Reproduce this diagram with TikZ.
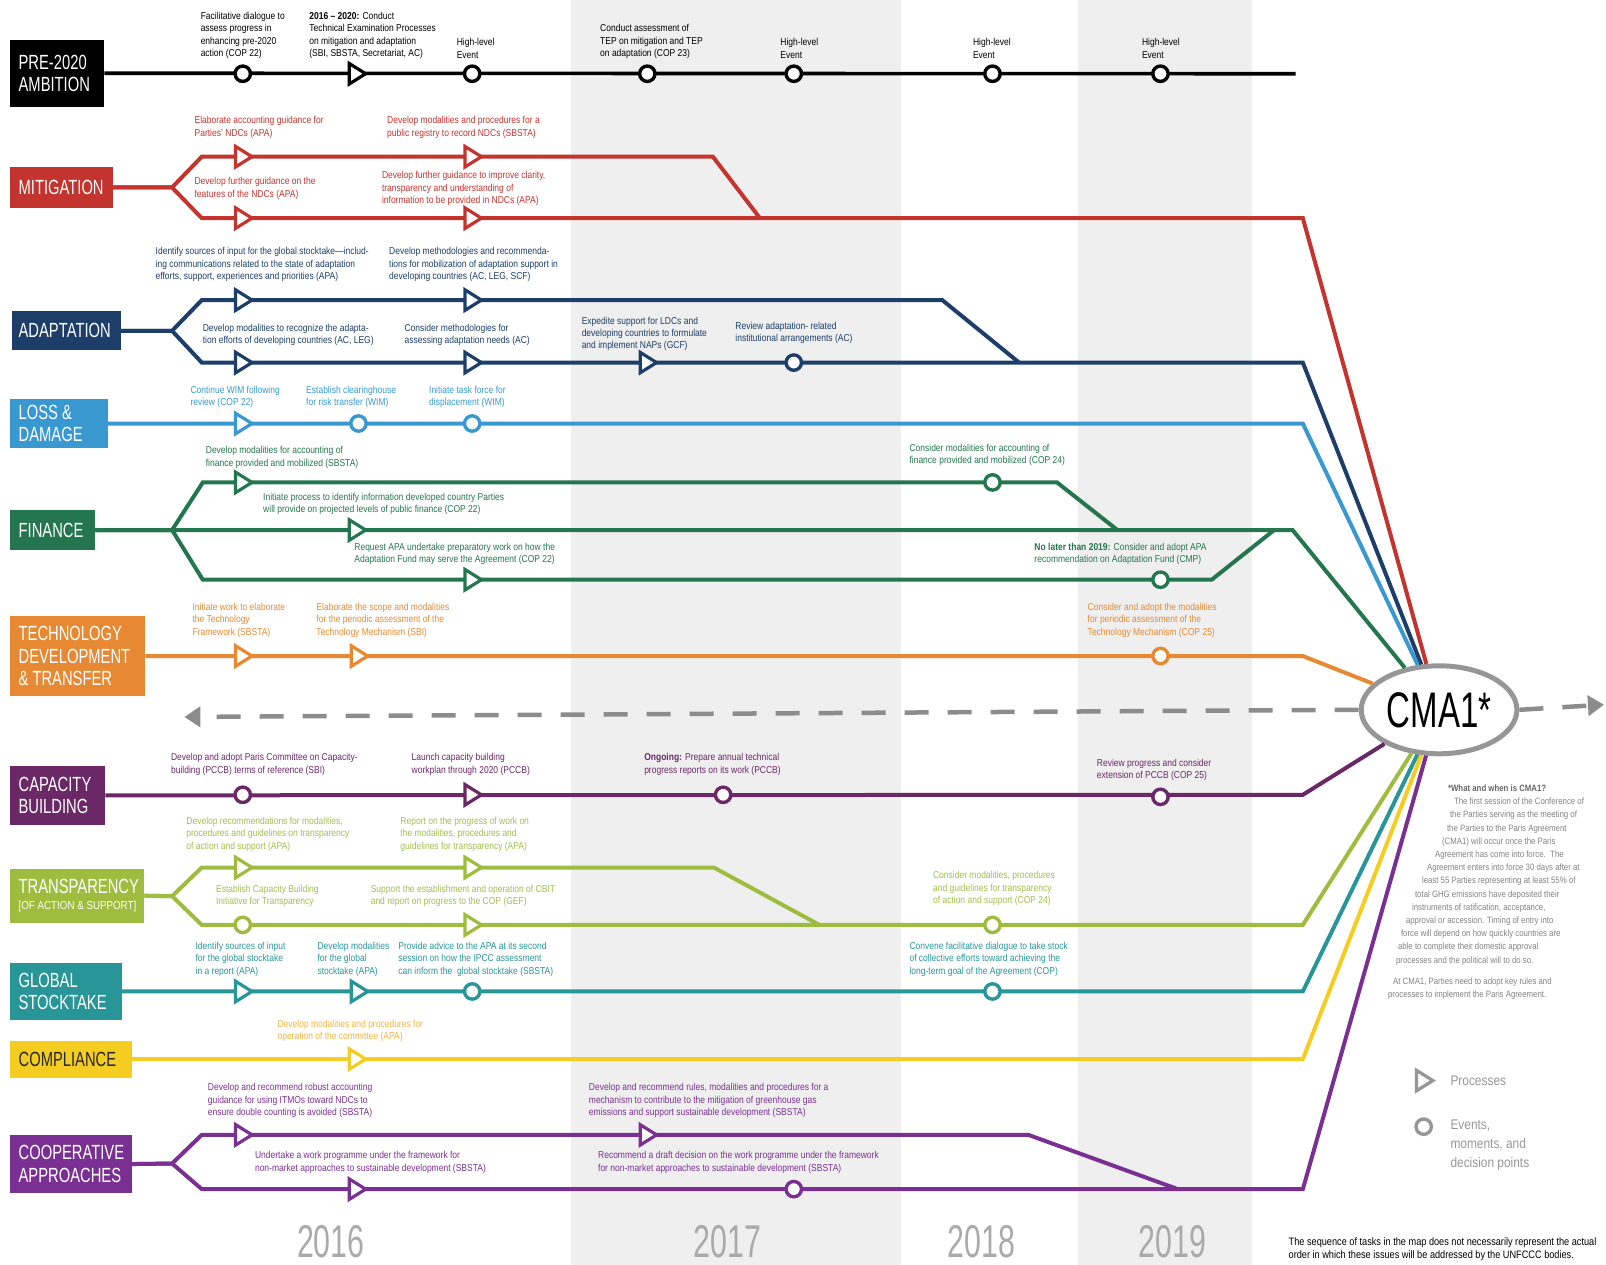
\documentclass[tikz,border=0pt]{standalone}
\usepackage{fontspec}
\setmainfont{Liberation Sans}[FakeStretch=0.85]
\newfontfamily\catfont{Liberation Sans}[FakeStretch=0.72]
\newfontfamily\condfont{Liberation Sans}[FakeStretch=0.66]
\usetikzlibrary{fit,shapes.geometric,arrows.meta}
\definecolor{bandg}{RGB}{239,239,239}
\definecolor{yearg}{RGB}{170,170,170}
\definecolor{mitc}{RGB}{196,52,46}
\definecolor{adac}{RGB}{28,62,104}
\definecolor{lossc}{RGB}{58,152,208}
\definecolor{finc}{RGB}{36,118,78}
\definecolor{tecc}{RGB}{230,137,50}
\definecolor{capc}{RGB}{106,40,102}
\definecolor{trac}{RGB}{158,188,62}
\definecolor{tratc}{RGB}{160,190,78}
\definecolor{gstc}{RGB}{40,150,152}
\definecolor{comc}{RGB}{245,205,32}
\definecolor{comtc}{RGB}{238,180,70}
\definecolor{cooc}{RGB}{122,48,146}
\definecolor{dashg}{RGB}{140,140,140}
\definecolor{cmag}{RGB}{150,150,150}
\definecolor{noteg}{RGB}{130,130,130}
\definecolor{legg}{RGB}{150,150,150}
\begin{document}
\begin{tikzpicture}[x=1.0242pt,y=-1.0242pt,
  lbl/.style={inner sep=0pt,outer sep=0pt,align=left,font=\fontsize{10}{12.3}\selectfont},
  catbox/.style={inner sep=0pt,outer sep=0pt},
  cattxt/.style={inner sep=0pt,anchor=west,align=left,text=white,font=\catfont\fontsize{20.5}{22.5}\selectfont},
  track/.style={line width=4pt,line join=miter},
  evt/.pic={\draw[line width=3.4pt,fill=white] (0,0) circle[radius=7.5];},
  proc/.pic={\draw[line width=3.2pt,fill=white,line join=miter] (-7,-10) -- (9,0) -- (-7,10) -- cycle;},
  yr/.style={inner sep=0pt,text=yearg,font=\condfont\fontsize{46}{46}\selectfont},
  dasharr/.style={line width=4.5pt,dashg,dash pattern=on 24pt off 19pt,-{Triangle[length=16pt,width=20pt]}}
]
\useasboundingbox (0,0) rectangle (1568,1235);
% year bands
\fill[bandg] (557,0) rectangle (880,1235);
\fill[bandg] (1052,0) rectangle (1222,1235);
\node[yr] (y16) at (323,1212) {2016};
\node[yr] (y17) at (710,1212) {2017};
\node[yr] (y18) at (958,1212) {2018};
\node[yr] (y19) at (1145,1212) {2019};

% CMA1
\node[ellipse,draw=cmag,line width=5pt,fill=white,minimum width=155.7pt,minimum height=88pt,inner sep=0pt,
  font=\condfont\fontsize{50}{50}\selectfont] (cma) at (1405,693) {CMA1*};
\coordinate (arrL) at (180,700);
\coordinate (arrR) at (1566,688);
\draw[dasharr] (cma.west) -- (arrL);
\draw[dasharr] (cma.east) -- (arrR);

% ---------------- PRE-2020
\node[catbox,fill=black,fit={(10,39) (102,104)}] (pre) {};
\node[cattxt] (preT) at (18,71.5) {PRE-2020\\AMBITION};
\coordinate (preEnd) at (1265,72);
\draw[track,line width=3.6pt] (pre.east) -- (preEnd);
\foreach \x in {237,461,632,775,969,1133} {\pic[color=black] at (\x,72) {evt};}
\pic[color=black] at (348,72) {proc};
\node[lbl,anchor=south west] (pA) at (196,57) {Facilitative dialogue to\\assess progress in\\enhancing pre-2020\\action (COP 22)};
\node[lbl,anchor=south west] (pB) at (302,57) {\textbf{2016 – 2020:} Conduct\\Technical Examination Processes\\on mitigation and adaptation\\(SBI, SBSTA, Secretariat, AC)};
\node[lbl,anchor=south west] (pC) at (446,57) {High-level\\Event};
\node[lbl,anchor=south west] (pD) at (586,57) {Conduct assessment of\\TEP on mitigation and TEP\\on adaptation (COP 23)};
\node[lbl,anchor=south west] (pE) at (762,57) {High-level\\Event};
\node[lbl,anchor=south west] (pF) at (950,57) {High-level\\Event};
\node[lbl,anchor=south west] (pG) at (1115,57) {High-level\\Event};

% ---------------- MITIGATION
\node[catbox,fill=mitc,fit={(10,163) (110,203)}] (mit) {};
\node[cattxt] (mitT) at (18,183) {MITIGATION};
\draw[track,mitc] (mit.east) -- (168,183) -- (197,153) -- (696,153) -- (742,213);
\draw[track,mitc] (mit.east) -- (168,183) -- (197,213) -- (1272,213) -- (cma);
\foreach \x in {237,461} {\pic[color=mitc] at (\x,153) {proc}; \pic[color=mitc] at (\x,213) {proc};}
\begin{scope}[every node/.append style={text=mitc}]
\node[lbl,anchor=south west] (mA) at (190,135) {Elaborate accounting guidance for\\Parties' NDCs (APA)};
\node[lbl,anchor=south west] (mB) at (378,135) {Develop modalities and procedures for a\\public registry to record NDCs (SBSTA)};
\node[lbl,anchor=west] (mC) at (190,184) {Develop further guidance on the\\features of the NDCs (APA)};
\node[lbl,anchor=west] (mD) at (373,184) {Develop further guidance to improve clarity,\\transparency and understanding of\\information to be provided in NDCs (APA)};
\end{scope}

% ---------------- ADAPTATION
\node[catbox,fill=adac,fit={(12,304) (118,342)}] (ada) {};
\node[cattxt] (adaT) at (18,323) {ADAPTATION};
\draw[track,adac] (ada.east) -- (168,323) -- (197,293) -- (920,293) -- (995,354);
\draw[track,adac] (ada.east) -- (168,323) -- (197,354) -- (1272,354) -- (cma);
\foreach \x in {237,461} {\pic[color=adac] at (\x,293) {proc};}
\foreach \x in {237,461,632} {\pic[color=adac] at (\x,354) {proc};}
\pic[color=adac] at (775,354) {evt};
\begin{scope}[every node/.append style={text=adac}]
\node[lbl,anchor=south west] (aA) at (152,275) {Identify sources of input for the global stocktake—includ-\\ing communications related to the state of adaptation\\efforts, support, experiences and priorities (APA)};
\node[lbl,anchor=south west] (aB) at (380,275) {Develop methodologies and recommenda-\\tions for mobilization of adaptation support in\\developing countries (AC, LEG, SCF)};
\node[lbl,anchor=west] (aC) at (198,327) {Develop modalities to recognize the adapta-\\tion efforts of developing countries (AC, LEG)};
\node[lbl,anchor=west] (aD) at (395,327) {Consider methodologies for\\assessing adaptation needs (AC)};
\node[lbl,anchor=west] (aE) at (568,326) {Expedite support for LDCs and\\developing countries to formulate\\and implement NAPs (GCF)};
\node[lbl,anchor=west] (aF) at (718,325) {Review adaptation- related\\institutional arrangements (AC)};
\end{scope}

% ---------------- LOSS & DAMAGE
\node[catbox,fill=lossc,fit={(10,390) (105,437)}] (loss) {};
\node[cattxt] (lossT) at (18,413.5) {LOSS \&\\DAMAGE};
\draw[track,lossc] (loss.east) -- (1272,413.5) -- (cma);
\pic[color=lossc] at (237,413.5) {proc};
\foreach \x in {350,461} {\pic[color=lossc] at (\x,413.5) {evt};}
\begin{scope}[every node/.append style={text=lossc}]
\node[lbl,anchor=south west] (lA) at (186,398) {Continue WIM following\\review (COP 22)};
\node[lbl,anchor=south west] (lB) at (299,398) {Establish clearinghouse\\for risk transfer (WIM)};
\node[lbl,anchor=south west] (lC) at (419,398) {Initiate task force for\\displacement (WIM)};
\end{scope}

% ---------------- FINANCE
\node[catbox,fill=finc,fit={(10,498) (93,537)}] (fin) {};
\node[cattxt] (finT) at (18,517.5) {FINANCE};
\draw[track,finc] (fin.east) -- (168,517.5) -- (198,471) -- (1032,471) -- (1091,517.5);
\draw[track,finc] (fin.east) -- (168,517.5) -- (198,566) -- (1183,566) -- (1244,517.5);
\draw[track,finc] (fin.east) -- (1262,517.5) -- (cma);
\pic[color=finc] at (237,471) {proc};
\pic[color=finc] at (348,517.5) {proc};
\pic[color=finc] at (461,566) {proc};
\pic[color=finc] at (969,471) {evt};
\pic[color=finc] at (1133,566) {evt};
\begin{scope}[every node/.append style={text=finc}]
\node[lbl,anchor=south west] (fA) at (201,457) {Develop modalities for accounting of\\finance provided and mobilized (SBSTA)};
\node[lbl,anchor=west] (fB) at (257,492) {Initiate process to identify information developed country Parties\\will provide on projected levels of public finance (COP 22)};
\node[lbl,anchor=west] (fC) at (346,541) {Request APA undertake preparatory work on how the\\Adaptation Fund may serve the Agreement (COP 22)};
\node[lbl,anchor=south west] (fD) at (888,455) {Consider modalities for accounting of\\finance provided and mobilized (COP 24)};
\node[lbl,anchor=west] (fE) at (1010,541) {\textbf{No later than 2019:} Consider and adopt APA\\recommendation on Adaptation Fund (CMP)};
\end{scope}

% ---------------- TECHNOLOGY
\node[catbox,fill=tecc,fit={(10,601) (142,680)}] (tec) {};
\node[cattxt] (tecT) at (18,640.5) {TECHNOLOGY\\DEVELOPMENT\\\& TRANSFER};
\draw[track,tecc] (tec.east) -- (1272,640.5) -- (cma);
\foreach \x in {237,350} {\pic[color=tecc] at (\x,640.5) {proc};}
\pic[color=tecc] at (1133,640.5) {evt};
\begin{scope}[every node/.append style={text=tecc}]
\node[lbl,anchor=south west] (tA) at (188,622) {Initiate work to elaborate\\the Technology\\Framework (SBSTA)};
\node[lbl,anchor=south west] (tB) at (309,622) {Elaborate the scope and modalities\\for the periodic assessment of the\\Technology Mechanism (SBI)};
\node[lbl,anchor=south west] (tC) at (1062,622) {Consider and adopt the modalities\\for periodic assessment of the\\Technology Mechanism (COP 25)};
\end{scope}

% ---------------- CAPACITY BUILDING
\node[catbox,fill=capc,fit={(10,748) (103,805)}] (cap) {};
\node[cattxt] (capT) at (18,776.5) {CAPACITY\\BUILDING};
\draw[track,capc] (cap.east) -- (1272,776) -- (cma);
\pic[color=capc] at (237,776) {evt};
\pic[color=capc] at (461,776) {proc};
\pic[color=capc] at (706,776) {evt};
\pic[color=capc] at (1133,778) {evt};
\begin{scope}[every node/.append style={text=capc}]
\node[lbl,anchor=south west] (cA) at (167,757) {Develop and adopt Paris Committee on Capacity-\\building (PCCB) terms of reference (SBI)};
\node[lbl,anchor=south west] (cB) at (402,757) {Launch capacity building\\workplan through 2020 (PCCB)};
\node[lbl,anchor=south west] (cC) at (629,757) {\textbf{Ongoing:} Prepare annual technical\\progress reports on its work (PCCB)};
\node[lbl,anchor=south west] (cD) at (1071,762) {Review progress and consider\\extension of PCCB (COP 25)};
\end{scope}

% ---------------- TRANSPARENCY
\node[catbox,fill=trac,fit={(10,848) (141,901)}] (tra) {};
\node[cattxt] (traT) at (18,874.5) {TRANSPARENCY\\[-6pt]{\rmfamily\fontsize{11.5}{12}\selectfont [OF ACTION \& SUPPORT]}};
\draw[track,trac] (tra.east) -- (168,875) -- (197,847) -- (697,847) -- (800,903);
\draw[track,trac] (tra.east) -- (168,875) -- (197,903) -- (1272,903) -- (cma);
\foreach \x in {237,461} {\pic[color=trac] at (\x,847) {proc};}
\pic[color=trac] at (237,903) {evt};
\pic[color=trac] at (461,903) {proc};
\pic[color=trac] at (969,903) {evt};
\begin{scope}[every node/.append style={text=tratc}]
\node[lbl,anchor=south west] (rA) at (182,831) {Develop recommendations for modalities,\\procedures and guidelines on transparency\\of action and support (APA)};
\node[lbl,anchor=south west] (rB) at (391,831) {Report on the progress of work on\\the modalities, procedures and\\guidelines for transparency (APA)};
\node[lbl,anchor=west] (rC) at (211,875) {Establish Capacity Building\\Initiative for Transparency};
\node[lbl,anchor=west] (rD) at (362,875) {Support the establishment and operation of CBIT\\and report on progress to the COP (GEF)};
\node[lbl,anchor=south west] (rE) at (911,884) {Consider modalities, procedures\\and guidelines for transparency\\of action and support (COP 24)};
\end{scope}

% ---------------- GLOBAL STOCKTAKE
\node[catbox,fill=gstc,fit={(10,940) (119,996)}] (gst) {};
\node[cattxt] (gstT) at (18,968) {GLOBAL\\STOCKTAKE};
\draw[track,gstc] (gst.east) -- (1272,968) -- (cma);
\foreach \x in {237,350} {\pic[color=gstc] at (\x,968) {proc};}
\foreach \x in {461,969} {\pic[color=gstc] at (\x,968) {evt};}
\begin{scope}[every node/.append style={text=gstc}]
\node[lbl,anchor=south west] (gA) at (191,953) {Identify sources of input\\for the global stocktake\\in a report (APA)};
\node[lbl,anchor=south west] (gB) at (310,953) {Develop modalities\\for the global\\stocktake (APA)};
\node[lbl,anchor=south west] (gC) at (389,953) {Provide advice to the APA at its second\\session on how the IPCC assessment\\can inform the\ \ global stocktake (SBSTA)};
\node[lbl,anchor=south west] (gD) at (888,953) {Convene facilitative dialogue to take stock\\of collective efforts toward achieving the\\long-term goal of the Agreement (COP)};
\end{scope}

% ---------------- COMPLIANCE
\node[catbox,fill=comc,fit={(10,1016) (129,1052)}] (com) {};
\node[cattxt,text=black!85] (comT) at (18,1034) {COMPLIANCE};
\draw[track,comc] (com.east) -- (1272,1034) -- (cma);
\pic[color=comc] at (348,1034) {proc};
\node[lbl,anchor=south west,text=comtc] (kA) at (271,1017) {Develop modalities and procedures for\\operation of the committee (APA)};

% ---------------- COOPERATIVE APPROACHES
\node[catbox,fill=cooc,fit={(10,1108) (129,1165)}] (coo) {};
\node[cattxt] (cooT) at (18,1136.5) {COOPERATIVE\\APPROACHES};
\draw[track,cooc] (coo.east) -- (168,1136) -- (197,1108) -- (1004,1108) -- (1150,1161);
\draw[track,cooc] (coo.east) -- (168,1136) -- (197,1161) -- (1272,1161) -- (cma);
\foreach \x in {237,632} {\pic[color=cooc] at (\x,1108) {proc};}
\pic[color=cooc] at (348,1161) {proc};
\pic[color=cooc] at (775,1161) {evt};
\begin{scope}[every node/.append style={text=cooc}]
\node[lbl,anchor=south west] (oA) at (203,1091) {Develop and recommend robust accounting\\guidance for using ITMOs toward NDCs to\\ensure double counting is avoided (SBSTA)};
\node[lbl,anchor=south west] (oB) at (575,1091) {Develop and recommend rules, modalities and procedures for a\\mechanism to contribute to the mitigation of greenhouse gas\\emissions and support sustainable development (SBSTA)};
\node[lbl,anchor=west] (oC) at (249,1135) {Undertake a work programme under the framework for\\non-market approaches to sustainable development (SBSTA)};
\node[lbl,anchor=west] (oD) at (584,1135) {Recommend a draft decision on the work programme under the framework\\for non-market approaches to sustainable development (SBSTA)};
\end{scope}

% ---------------- CMA1 note
\node[inner sep=0pt,anchor=north west,align=left,text=noteg,font=\fontsize{9.2}{13.2}\selectfont] (cmaNote) at (1355,766) {%
\hspace*{60pt}{\color{black!60}\textbf{*What and when is CMA1?}}\\
\hspace*{66pt}The first session of the Conference of\\
\hspace*{62pt}the Parties serving as the meeting of\\
\hspace*{59pt}the Parties to the Paris Agreement\\
\hspace*{54pt}(CMA1) will occur once the Paris\\
\hspace*{47pt}Agreement has come into force.\ \ The\\
\hspace*{39pt}Agreement enters into force 30 days after at\\
\hspace*{34pt}least 55 Parties representing at least 55\% of\\
\hspace*{27pt}total GHG emissions have deposited their\\
\hspace*{24pt}instruments of ratification, acceptance,\\
\hspace*{18pt}approval or accession. Timing of entry into\\
\hspace*{13pt}force will depend on how quickly countries are\\
\hspace*{10pt}able to complete their domestic approval\\
\hspace*{8pt}processes and the political will to do so.\\[8pt]
\hspace*{5pt}At CMA1, Parties need to adopt key rules and\\
processes to implement the Paris Agreement.};

% ---------------- legend
\pic[color=legg] at (1390,1055) {proc};
\pic[color=legg] at (1390,1100) {evt};
\node[inner sep=0pt,anchor=west,text=legg,font=\fontsize{14}{19}\selectfont] (legP) at (1416,1055) {Processes};
\node[inner sep=0pt,anchor=north west,align=left,text=legg,font=\fontsize{14}{19}\selectfont] (legE) at (1416,1093) {Events,\\moments, and\\decision points};

% ---------------- footnote
\node[inner sep=0pt,anchor=south west,align=left,font=\fontsize{10.8}{12.5}\selectfont] (foot) at (1258,1231) {The sequence of tasks in the map does not necessarily represent the actual\\order in which these issues will be addressed by the UNFCCC bodies.};
\end{tikzpicture}
\end{document}
